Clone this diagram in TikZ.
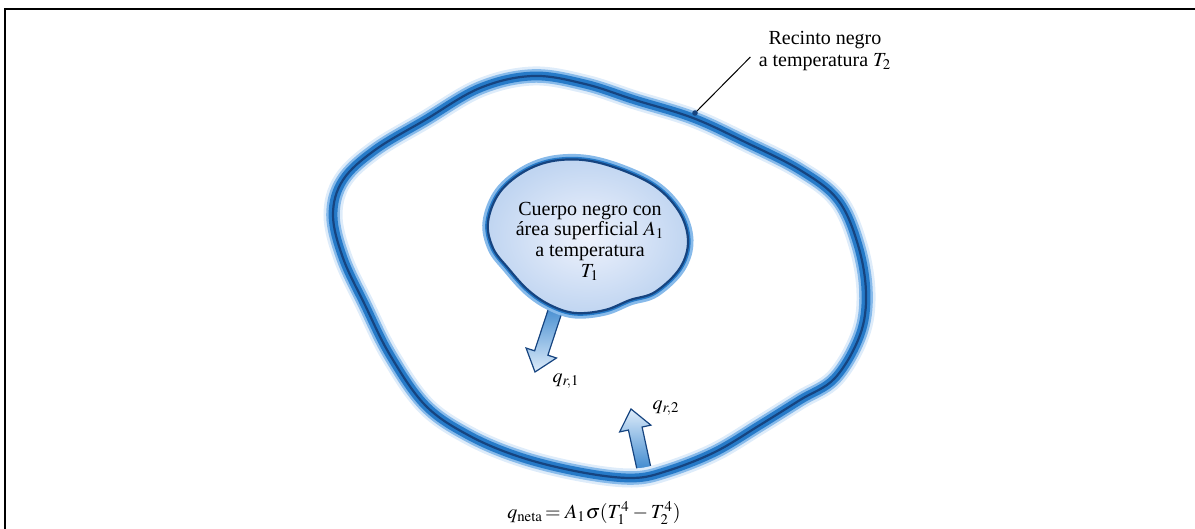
\documentclass[tikz,border=0pt]{standalone}
\usepackage{mathptmx}
\usepackage{fontspec}
\setmainfont{Liberation Serif}
\usetikzlibrary{calc}

\definecolor{ringblue}{RGB}{38,122,200}
\definecolor{ringdark}{RGB}{22,68,128}
\definecolor{glowblue}{RGB}{135,186,234}
\definecolor{haloblue}{RGB}{222,236,250}
\definecolor{bodyfill}{RGB}{238,242,252}
\definecolor{bodyedge}{RGB}{192,213,241}

\begin{document}
\begin{tikzpicture}[
  x=0.5pt, y=-0.5pt,
  font=\fontsize{10}{11}\selectfont,
  frameline/.style={line width=1.2pt, black},
  halo/.style={line width=9.5pt, haloblue},
  glow/.style={line width=6.8pt, glowblue},
  band/.style={line width=4.4pt, ringblue},
  edge/.style={line width=1.1pt, ringdark},
  flux/.style={draw=ringdark, line width=0.6pt},
  lbl/.style={inner sep=0pt, align=center},
]
\useasboundingbox (0,0) rectangle (1195,529);
\draw[frameline] (5,529) -- (5,9) -- (1195,9);

% arrow out of the enclosure wall
\coordinate (q2s) at (646,478);
\coordinate (q2e) at (631,409);
\coordinate (q2h) at ($(q2e)!10pt!(q2s)$);
\shade[flux, top color=haloblue, bottom color=ringblue]
  ($(q2s)!3.5pt!90:(q2e)$) -- ($(q2h)!3.5pt!90:(q2e)$) -- ($(q2h)!8pt!90:(q2e)$)
  -- (q2e) -- ($(q2h)!8pt!-90:(q2e)$) -- ($(q2h)!3.5pt!-90:(q2e)$)
  -- ($(q2s)!3.5pt!-90:(q2e)$) -- cycle;

% enclosure
\foreach \s in {halo,glow,band,edge}
  \draw[\s] plot[smooth cycle, tension=0.6] coordinates {
    (333,215) (343,180) (375,150) (425,120) (480,88) (533,76) (585,84)
    (635,100) (693,118) (745,142) (800,170) (838,200) (858,245) (866,293)
    (860,335) (835,378) (800,400) (760,425) (715,452) (667,471) (632,478)
    (580,472) (520,457) (468,435) (425,405) (390,355) (365,305) (343,258)};

% arrow out of the body
\coordinate (q1s) at (560,296);
\coordinate (q1e) at (535,372);
\coordinate (q1h) at ($(q1e)!10pt!(q1s)$);
\shade[flux, top color=ringblue, bottom color=haloblue]
  ($(q1s)!3.5pt!90:(q1e)$) -- ($(q1h)!3.5pt!90:(q1e)$) -- ($(q1h)!8pt!90:(q1e)$)
  -- (q1e) -- ($(q1h)!8pt!-90:(q1e)$) -- ($(q1h)!3.5pt!-90:(q1e)$)
  -- ($(q1s)!3.5pt!-90:(q1e)$) -- cycle;

% black body
\foreach \w/\c in {5.5pt/glowblue, 2.6pt/ringblue}
  \draw[line width=\w, \c] plot[smooth cycle, tension=0.6] coordinates {
    (488,222) (500,192) (527,170) (560,160) (600,163) (650,183) (678,210)
    (688,240) (680,268) (655,292) (630,300) (605,310) (575,313) (550,305)
    (528,290) (508,268) (493,248)};
\shade[inner color=bodyfill, outer color=bodyedge]
  plot[smooth cycle, tension=0.6] coordinates {
  (488,222) (500,192) (527,170) (560,160) (600,163) (650,183) (678,210)
  (688,240) (680,268) (655,292) (630,300) (605,310) (575,313) (550,305)
  (528,290) (508,268) (493,248)};
\draw[edge] plot[smooth cycle, tension=0.6] coordinates {
  (488,222) (500,192) (527,170) (560,160) (600,163) (650,183) (678,210)
  (688,240) (680,268) (655,292) (630,300) (605,310) (575,313) (550,305)
  (528,290) (508,268) (493,248)};

\node[lbl, font=\fontsize{10}{10.3}\selectfont] (body) at (590,241)
  {Cuerpo negro con\\área superficial $A_1$\\a temperatura\\$T_1$};

\node[lbl] (encl) at (825,51) {Recinto negro\\a temperatura $T_2$};
\coordinate (hit) at (695,113);
\draw[line width=0.5pt] ([shift={(-4pt,-3pt)}]encl.west) -- (hit);
\fill[ringdark] (hit) circle (1.4pt);

\node[lbl] (qr1) at (566,381) {$q_{r,1}$};
\node[lbl] (qr2) at (666,408) {$q_{r,2}$};
\node[lbl] (qnet) at (594,513) {$q_{\mathrm{neta}}\!= A_1\sigma(T_1^4 - T_2^4)$};
\end{tikzpicture}
\end{document}
